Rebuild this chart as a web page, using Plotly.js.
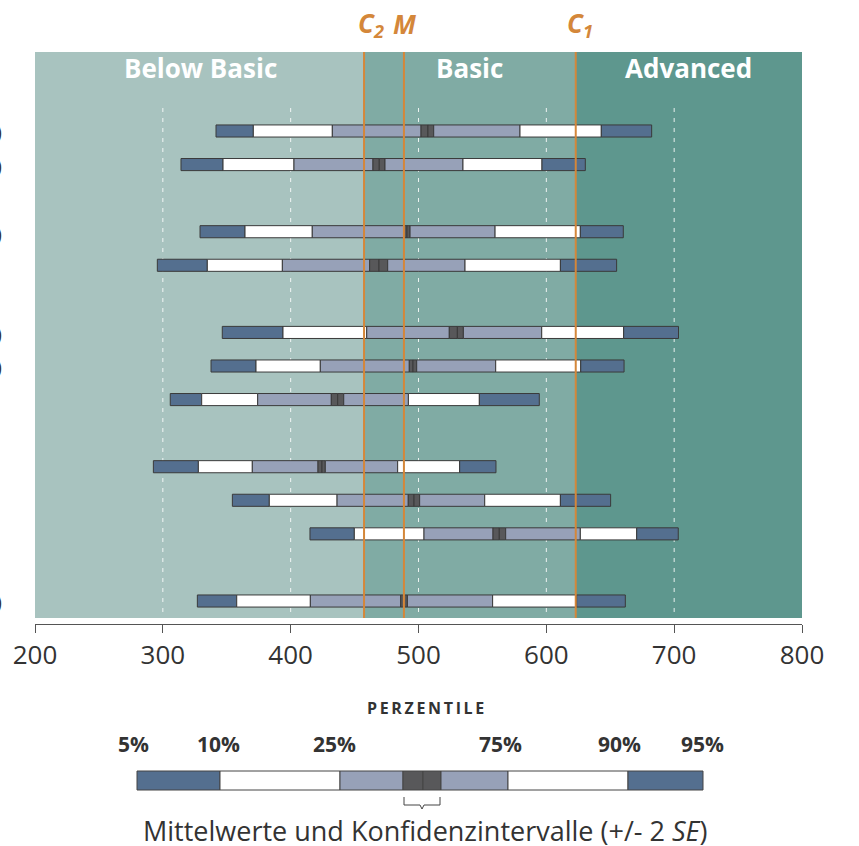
<!DOCTYPE html>
<html><head><meta charset="utf-8">
<script src="https://cdn.plot.ly/plotly-3.0.1.min.js"></script>
<style>html,body{margin:0;padding:0;background:#fff}#chart{width:859px;height:846px}</style>
</head><body><div id="chart"></div>
<script>
// Row slots (gaps separate groups)
const rowIndex = [0, 1, 3, 4, 6, 7, 8, 10, 11, 12, 14];
const p5   = [341.6, 314.2, 329.1, 295.7, 346.5, 337.7, 305.8, 292.6, 354.4, 415.1, 327.0];
const p10  = [370.8, 347.1, 364.3, 334.8, 394.0, 372.9, 330.4, 327.8, 383.3, 449.8, 357.8];
const p25  = [432.6, 402.6, 416.9, 393.5, 459.5, 423.2, 374.2, 370.0, 436.3, 504.3, 415.4];
const ciLo = [502.0, 464.4, 489.0, 461.8, 524.1, 492.8, 431.8, 421.4, 492.0, 558.3, 486.1];
const mean = [507.4, 469.3, 491.0, 469.1, 530.4, 495.7, 436.8, 424.5, 496.5, 563.2, 488.7];
const ciHi = [511.9, 473.8, 493.4, 475.9, 535.1, 498.6, 441.5, 427.1, 500.9, 568.2, 491.3];
const p75  = [579.4, 534.8, 559.9, 536.4, 596.4, 560.4, 492.1, 483.7, 551.8, 626.6, 558.0];
const p90  = [643.0, 596.6, 626.6, 611.0, 660.5, 626.9, 547.6, 532.2, 611.0, 670.7, 623.7];
const p95  = [682.4, 630.5, 660.2, 655.0, 703.4, 660.8, 594.5, 560.6, 650.3, 703.2, 661.8];

const cutC2 = 457.4, cutM = 488.6, cutC1 = 623.0;
const xTicks = [200, 300, 400, 500, 600, 700, 800];
const gridVals = [300, 400, 500, 600, 700];
const bandNames = ['Below Basic', 'Basic', 'Advanced'];
const pctLabels = ['5%', '10%', '25%', '75%', '90%', '95%'];

const BLUE = '#546f8f', WHITE = '#ffffff', GRAY = '#97a1b8', DARK = '#58585a';
const OUT = '#3a3a3a';

const segs = [
  [p5, p10, BLUE], [p10, p25, WHITE], [p25, ciLo, GRAY], [ciLo, mean, DARK],
  [mean, ciHi, DARK], [ciHi, p75, GRAY], [p75, p90, WHITE], [p90, p95, BLUE]
];
const traces = segs.map(([a, b, c]) => ({
  type: 'bar', orientation: 'h', y: rowIndex, base: a,
  x: a.map((v, i) => b[i] - v), width: 0.36,
  marker: {color: c, line: {color: OUT, width: 1}},
  hoverinfo: 'skip', showlegend: false
}));

// pixel helpers for the decorative key (plot area: x 35..802, y 52..624)
const PX0 = 35, PW = 767, PY1 = 624, PH = 572;
const px = v => (v - PX0) / PW;
const py = v => (PY1 - v) / PH;

const shapes = [];
const bandEdges = [200, cutC2, cutC1, 800];
const bandCols = ['#a8c3bf', '#80aba4', '#5e978e'];
for (let i = 0; i < 3; i++) {
  shapes.push({type: 'rect', xref: 'x', yref: 'y', x0: bandEdges[i], x1: bandEdges[i + 1],
    y0: -2.353, y1: 14.506, fillcolor: bandCols[i], line: {width: 0}, layer: 'below'});
}
gridVals.forEach(g => shapes.push({type: 'line', xref: 'x', yref: 'y', x0: g, x1: g,
  y0: -0.685, y1: 14.506, line: {color: 'rgba(255,255,255,0.85)', width: 1, dash: '4px,6px'}, layer: 'below'}));
[cutC2, cutM, cutC1].forEach(c => shapes.push({type: 'line', xref: 'x', yref: 'y', x0: c, x1: c,
  y0: -2.353, y1: 14.506, line: {color: '#d4873a', width: 2}, layer: 'above'}));

// key bar
const keyEdges = [137, 220, 340, 403, 423, 441, 508, 628, 703];
const keyCols = [BLUE, WHITE, GRAY, DARK, DARK, GRAY, WHITE, BLUE];
for (let i = 0; i < 8; i++) {
  shapes.push({type: 'rect', xref: 'paper', yref: 'paper', x0: px(keyEdges[i]), x1: px(keyEdges[i + 1]),
    y0: py(790), y1: py(771), fillcolor: keyCols[i], line: {color: '#444', width: 1}});
}
shapes.push({type: 'path', xref: 'paper', yref: 'paper',
  path: `M ${px(404)} ${py(797)} L ${px(404)} ${py(805)} L ${px(420)} ${py(805)} L ${px(422)} ${py(809)} L ${px(424)} ${py(805)} L ${px(440)} ${py(805)} L ${px(440)} ${py(797)}`,
  line: {color: '#444', width: 1}});

const annotations = [];
const bandLabelPx = [200, 469, 688];
bandNames.forEach((t, i) => annotations.push({text: '<b>' + t + '</b>', xref: 'paper', yref: 'paper',
  x: px(bandLabelPx[i]), y: py(68), showarrow: false, xanchor: 'center', yanchor: 'middle',
  font: {family: 'Open Sans', size: 26, color: '#ffffff'}}));
const topLab = [['C<sub>2</sub>', 371], ['M', 404], ['C<sub>1</sub>', 580]];
topLab.forEach(([t, x]) => annotations.push({text: '<b><i>' + t + '</i></b>', xref: 'paper', yref: 'paper',
  x: px(x), y: py(24), showarrow: false, xanchor: 'center', yanchor: 'middle',
  font: {family: 'Open Sans', size: 26, color: '#d4873a'}}));
// cut-off row labels at the left edge
[131, 165, 233, 333, 367, 601].forEach(y => annotations.push({text: ')', xref: 'paper', yref: 'paper',
  x: px(4), y: py(y), showarrow: false, xanchor: 'right', yanchor: 'middle',
  font: {family: 'Open Sans', size: 20, color: '#333333'}}));
const TS = '\u2009';
annotations.push({text: '<b>' + 'PERZENTILE'.split('').join(TS) + '</b>', xref: 'paper', yref: 'paper', x: px(425), y: py(708),
  showarrow: false, xanchor: 'center', yanchor: 'middle', font: {family: 'Open Sans', size: 16, color: '#333'}});
const pctPx = [133, 218, 334, 500, 619, 702];
pctLabels.forEach((t, i) => annotations.push({text: '<b>' + t + '</b>', xref: 'paper', yref: 'paper',
  x: px(pctPx[i]), y: py(744), showarrow: false, xanchor: 'center', yanchor: 'middle',
  font: {family: 'Open Sans', size: 21, color: '#333'}}));
annotations.push({text: 'Mittelwerte und Konfidenzintervalle (+/- 2 <i>SE</i>)', xref: 'paper', yref: 'paper',
  x: px(425), y: py(830), showarrow: false, xanchor: 'center', yanchor: 'middle',
  font: {family: 'Open Sans', size: 27, color: '#333'}});

const layout = {
  width: 859, height: 846,
  margin: {l: 35, r: 57, t: 52, b: 222, pad: 0},
  paper_bgcolor: '#ffffff', plot_bgcolor: 'rgba(0,0,0,0)',
  barmode: 'overlay', bargap: 0,
  xaxis: {range: [200, 800], tickvals: xTicks, ticktext: xTicks.map(String), showgrid: false, zeroline: false,
    showline: true, linecolor: '#555', linewidth: 1, ticks: 'outside', ticklen: 8, tickcolor: '#555',
    tickfont: {family: 'Open Sans', size: 26, color: '#333'}, fixedrange: true},
  yaxis: {range: [14.685, -2.353], showgrid: false, zeroline: false, showticklabels: false,
    showline: false, ticks: '', fixedrange: true},
  shapes, annotations, showlegend: false
};
Plotly.newPlot('chart', traces, layout, {staticPlot: true});
</script></body></html>
